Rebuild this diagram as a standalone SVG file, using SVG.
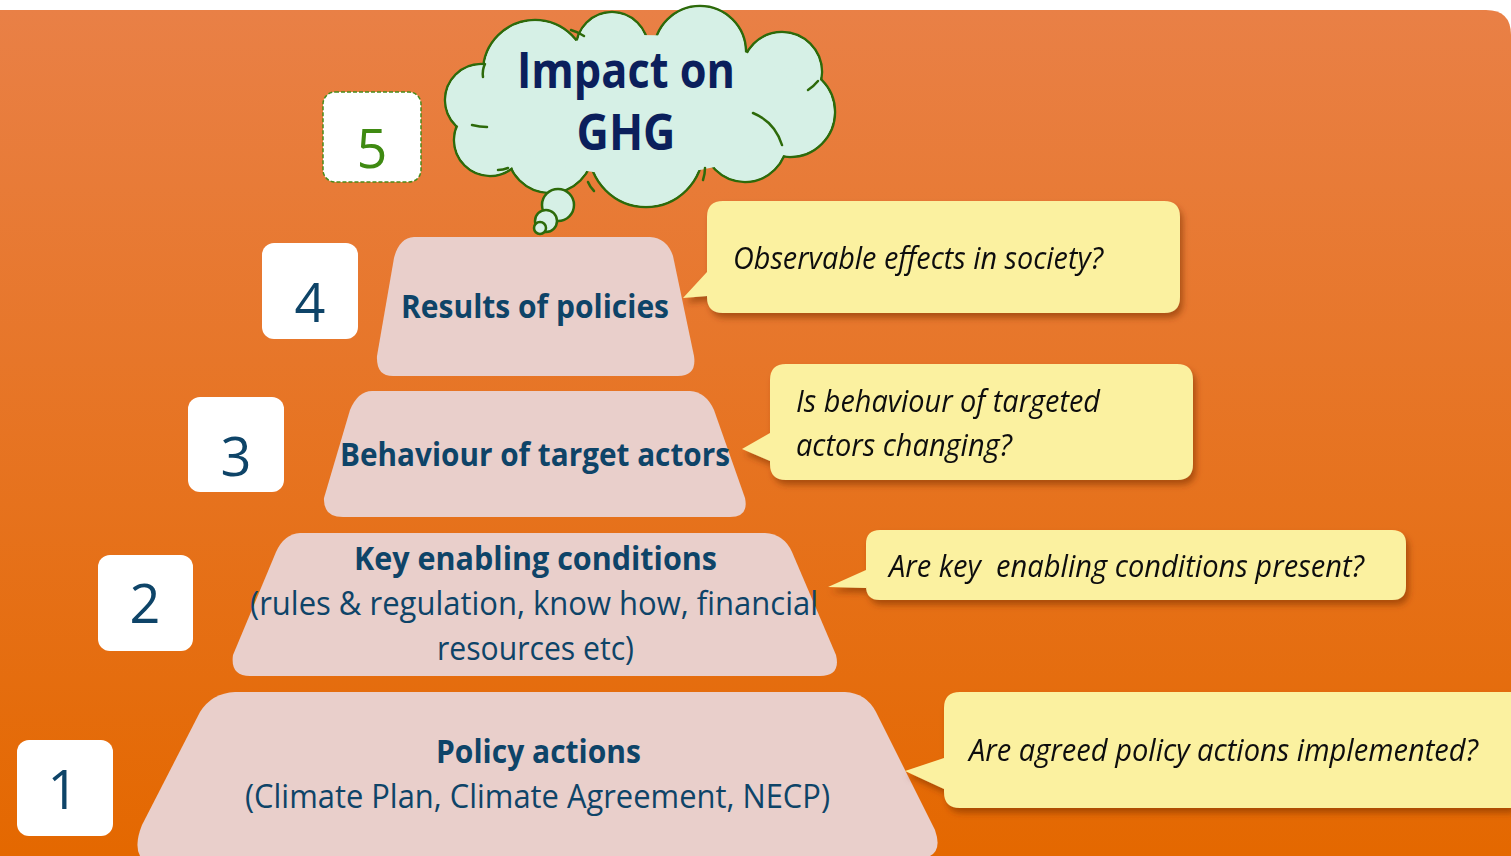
<svg xmlns="http://www.w3.org/2000/svg" width="1511" height="856" viewBox="0 0 1511 856">
  <defs>
    <linearGradient id="bg" x1="0" y1="0" x2="0" y2="1">
      <stop offset="0" stop-color="#E98046"/>
      <stop offset="1" stop-color="#E46800"/>
    </linearGradient>
    <filter id="shadow" x="-10%" y="-20%" width="125%" height="150%">
      <feDropShadow dx="3" dy="5" stdDeviation="3" flood-color="#7a3300" flood-opacity="0.55"/>
    </filter>
    <style>
      .num { fill:#ffffff; }
      .numtxt { font-family:"Open Sans","Noto Sans",sans-serif; font-weight:400; font-size:54px; fill:#0e4468; text-anchor:middle; }
      .trap { fill:#E9CFCB; }
      .tb { font-family:"Open Sans","Noto Sans",sans-serif; font-weight:bold; font-size:33px; fill:#0e4468; }
      .tr { font-family:"Open Sans","Noto Sans",sans-serif; font-size:33px; fill:#0e4468; }
      .call { fill:#FBF1A0; }
      .ct { font-family:"Open Sans","Noto Sans",sans-serif; font-style:italic; font-size:31px; fill:#111111; }
      .cloud { fill:#D6F0E6; stroke:#2d6a0a; stroke-width:2.5; }
      .cloudfill { fill:#D6F0E6; }
      .crease { fill:none; stroke:#2d6a0a; stroke-width:2.5; stroke-linecap:round; }
      .ctext { font-family:"Open Sans","Noto Sans",sans-serif; font-weight:bold; font-size:50px; fill:#0b1f5c; text-anchor:middle; }
    </style>
  </defs>

  <rect x="0" y="0" width="1511" height="856" fill="#ffffff"/>
  <path d="M0 10 L1486 10 Q1511 10 1511 35 L1511 856 L0 856 Z" fill="url(#bg)"/>

  <!-- Cloud -->
  <g id="cloud">
    <g>
      <circle class="cloud" cx="535" cy="72" r="52"/>
      <circle class="cloud" cx="612" cy="48" r="36"/>
      <circle class="cloud" cx="700" cy="52" r="46"/>
      <circle class="cloud" cx="782" cy="72" r="40"/>
      <circle class="cloud" cx="790" cy="112" r="45"/>
      <circle class="cloud" cx="745" cy="140" r="42"/>
      <circle class="cloud" cx="646" cy="150" r="57"/>
      <circle class="cloud" cx="550" cy="150" r="43"/>
      <circle class="cloud" cx="490" cy="140" r="36"/>
      <circle class="cloud" cx="481" cy="100" r="36"/>
    </g>
    <g>
      <circle class="cloudfill" cx="535" cy="72" r="50.7"/>
      <circle class="cloudfill" cx="612" cy="48" r="34.7"/>
      <circle class="cloudfill" cx="700" cy="52" r="44.7"/>
      <circle class="cloudfill" cx="782" cy="72" r="38.7"/>
      <circle class="cloudfill" cx="790" cy="112" r="43.7"/>
      <circle class="cloudfill" cx="745" cy="140" r="40.7"/>
      <circle class="cloudfill" cx="646" cy="150" r="55.7"/>
      <circle class="cloudfill" cx="550" cy="150" r="41.7"/>
      <circle class="cloudfill" cx="490" cy="140" r="34.7"/>
      <circle class="cloudfill" cx="481" cy="100" r="34.7"/>
      <ellipse class="cloudfill" cx="640" cy="105" rx="160" ry="70"/>
    </g>
    <path class="crease" d="M483 77 Q482 70 485 64"/>
    <path class="crease" d="M472 125 Q480 127 487 127"/>
    <path class="crease" d="M498 170 Q503 170 508 168"/>
    <path class="crease" d="M588 182 Q590 187 594 191"/>
    <path class="crease" d="M705 168 Q705 174 703 180"/>
    <path class="crease" d="M753 113 Q775 122 782 145"/>
    <path class="crease" d="M808 90 Q814 86 818 81"/>
    <path class="crease" d="M571 30 Q578 32 584 36"/>
    <circle class="cloud" cx="558" cy="205" r="16"/>
    <circle class="cloud" cx="546" cy="221" r="11"/>
    <circle class="cloud" cx="540" cy="228" r="6"/>
    <text class="ctext" x="626" y="88" textLength="218" lengthAdjust="spacingAndGlyphs">Impact on</text>
    <text class="ctext" x="626" y="150" textLength="99" lengthAdjust="spacingAndGlyphs">GHG</text>
  </g>

  <!-- Number boxes -->
  <g id="num5">
    <rect x="323" y="92" width="98" height="90" rx="12" fill="#ffffff" stroke="#4a8a1a" stroke-width="1.5" stroke-dasharray="4 2"/>
    <text class="numtxt" x="372" y="168" style="fill:#3f8a12">5</text>
  </g>
  <g id="num4">
    <rect class="num" x="262" y="243" width="96" height="96" rx="12"/>
    <text class="numtxt" x="310" y="322">4</text>
  </g>
  <g id="num3">
    <rect class="num" x="188" y="397" width="96" height="95" rx="12"/>
    <text class="numtxt" x="236" y="476">3</text>
  </g>
  <g id="num2">
    <rect class="num" x="98" y="555" width="95" height="96" rx="12"/>
    <text class="numtxt" x="145" y="623">2</text>
  </g>
  <g id="num1">
    <rect class="num" x="17" y="740" width="96" height="96" rx="12"/>
    <text class="numtxt" x="63" y="809">1</text>
  </g>

  <!-- Pyramid levels -->
  <g id="level4">
    <path class="trap" d="M414 237 L650 237 Q667 238 673 256 L694 356 Q697 376 678 376 L393 376 Q376 376 377 356 L394 258 Q399 238 414 237 Z"/>
    <text class="tb" x="401" y="318" textLength="268" lengthAdjust="spacingAndGlyphs">Results of policies</text>
  </g>
  <g id="level3">
    <path class="trap" d="M372 391 L690 391 Q706 392 714 410 L745 498 Q749 517 730 517 L343 517 Q323 517 324 498 L350 410 Q358 391 372 391 Z"/>
    <text class="tb" x="340" y="466" textLength="390" lengthAdjust="spacingAndGlyphs">Behaviour of target actors</text>
  </g>
  <g id="level2">
    <path class="trap" d="M300 533 L765 533 Q784 534 792 552 L836 655 Q841 676 820 676 L250 676 Q230 676 233 655 L276 552 Q284 534 300 533 Z"/>
    <text class="tb" x="354" y="570" textLength="363" lengthAdjust="spacingAndGlyphs">Key enabling conditions</text>
    <text class="tr" x="250" y="615" textLength="568" lengthAdjust="spacingAndGlyphs">(rules &amp; regulation, know how, financial</text>
    <text class="tr" x="437" y="660" textLength="197" lengthAdjust="spacingAndGlyphs">resources etc)</text>
  </g>
  <g id="level1">
    <path class="trap" d="M235 692 L845 692 Q866 693 876 712 L935 830 Q942 850 930 856 L140 856 Q134 845 142 825 L200 712 Q212 693 235 692 Z"/>
    <text class="tb" x="436" y="763" textLength="205" lengthAdjust="spacingAndGlyphs">Policy actions</text>
    <text class="tr" x="245" y="808" textLength="585" lengthAdjust="spacingAndGlyphs">(Climate Plan, Climate Agreement, NECP)</text>
  </g>

  <!-- Callouts -->
  <g id="callout4" filter="url(#shadow)">
    <path class="call" d="M723 201 L1164 201 Q1180 201 1180 217 L1180 297 Q1180 313 1164 313 L723 313 Q707 313 707 297 L707 296 L683 298 L707 272 L707 217 Q707 201 723 201 Z"/>
    <text class="ct" x="733" y="269" textLength="370" lengthAdjust="spacingAndGlyphs">Observable effects in society?</text>
  </g>
  <g id="callout3" filter="url(#shadow)">
    <path class="call" d="M786 364 L1177 364 Q1193 364 1193 380 L1193 464 Q1193 480 1177 480 L786 480 Q770 480 770 464 L770 461 L742 449 L770 433 L770 380 Q770 364 786 364 Z"/>
    <text class="ct" x="796" y="412" textLength="304" lengthAdjust="spacingAndGlyphs">Is behaviour of targeted</text>
    <text class="ct" x="796" y="456" textLength="216" lengthAdjust="spacingAndGlyphs">actors changing?</text>
  </g>
  <g id="callout2" filter="url(#shadow)">
    <path class="call" d="M880 530 L1392 530 Q1406 530 1406 544 L1406 586 Q1406 600 1392 600 L880 600 Q866 600 866 586 L866 588 L828 587 L866 570 L866 544 Q866 530 880 530 Z"/>
    <text class="ct" x="889" y="577" textLength="475" lengthAdjust="spacingAndGlyphs" xml:space="preserve">Are key  enabling conditions present?</text>
  </g>
  <g id="callout1" filter="url(#shadow)">
    <path class="call" d="M960 692 L1511 692 L1511 808 L960 808 Q944 808 944 792 L944 789 L905 771 L944 758 L944 708 Q944 692 960 692 Z"/>
    <text class="ct" x="969" y="761" textLength="509" lengthAdjust="spacingAndGlyphs">Are agreed policy actions implemented?</text>
  </g>

  <g id="connectors"></g>
</svg>
